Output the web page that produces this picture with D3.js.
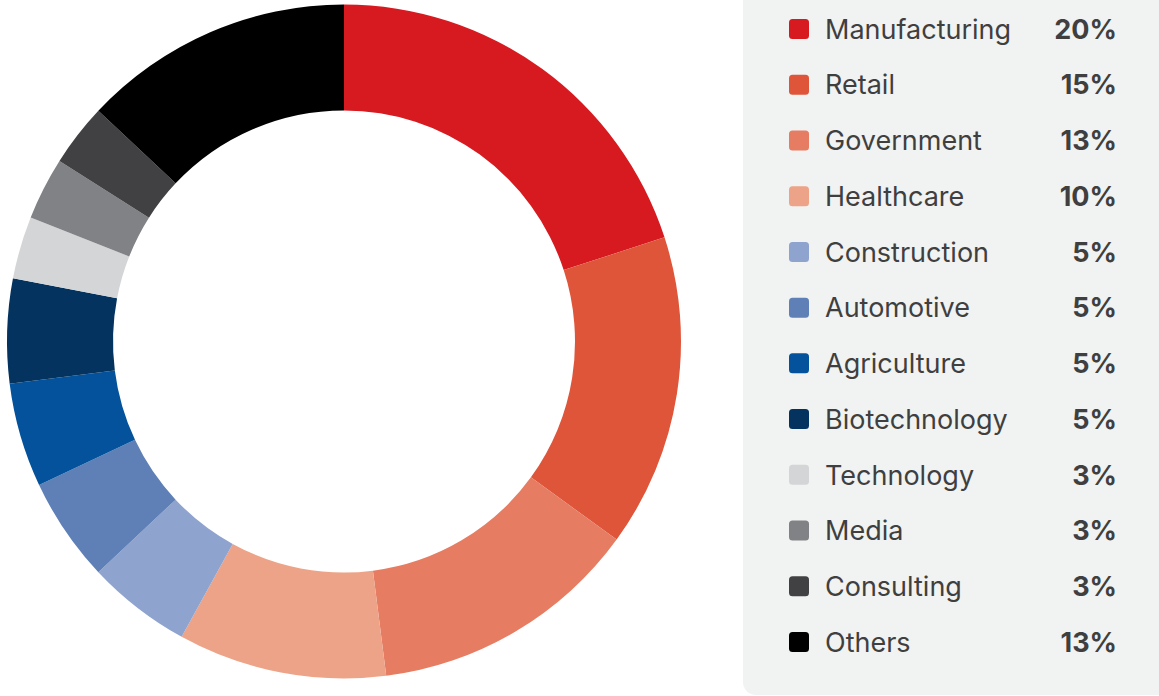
<!DOCTYPE html>
<html>
<head>
<meta charset="utf-8">
<script src="https://cdn.jsdelivr.net/npm/d3@7"></script>
<style>
  html, body { margin: 0; padding: 0; background: #fff; }
  svg { display: block; }
</style>
</head>
<body>
<div id="chart"></div>
<script>
// data
var categories = ["Manufacturing", "Retail", "Government", "Healthcare", "Construction",
  "Automotive", "Agriculture", "Biotechnology", "Technology", "Media", "Consulting", "Others"];
var shares = [20, 15, 13, 10, 5, 5, 5, 5, 3, 3, 3, 13];
var colors = ["#d71920", "#df553a", "#e67c62", "#eda387", "#8fa3cf", "#5f80b7",
  "#03529b", "#04335f", "#d4d5d6", "#808285", "#414143", "#000000"];

var width = 1159, height = 696;

var svg = d3.select('#chart').append('svg')
  .attr('width', width)
  .attr('height', height);

// donut
var cx = 344, cy = 341.5,
    outerR = 337, innerR = 231;

var pie = d3.pie().sort(null).value(function (d) { return d; });
var arc = d3.arc().innerRadius(innerR).outerRadius(outerR);

var color = d3.scaleOrdinal().domain(categories).range(colors);

var donut = svg.append('g')
  .attr('transform', 'translate(' + cx + ',' + cy + ')');

donut.selectAll('path')
  .data(pie(shares))
  .enter().append('path')
    .attr('d', arc)
    .attr('fill', function (d, i) { return color(categories[i]); });

// legend panel (top edge runs off the page)
svg.append('rect')
  .attr('x', 743)
  .attr('y', -20)
  .attr('width', 440)
  .attr('height', 715)
  .attr('rx', 13)
  .attr('fill', '#f1f2f2');

var rowY = d3.scalePoint()
  .domain(categories)
  .range([29, 642]);

var legend = svg.append('g');

var rows = legend.selectAll('g.row')
  .data(categories)
  .enter().append('g')
    .attr('class', 'row')
    .attr('transform', function (d) { return 'translate(0,' + rowY(d) + ')'; });

rows.append('rect')
  .attr('x', 789)
  .attr('y', -10)
  .attr('width', 20)
  .attr('height', 20)
  .attr('rx', 3.5)
  .attr('fill', function (d) { return color(d); });

rows.append('text')
  .attr('x', 825)
  .attr('dy', '0.36em')
  .style('font-family', 'Inter, "Noto Sans", sans-serif')
  .style('font-size', '27px')
  .style('fill', '#3f3f40')
  .text(function (d) { return d; });

rows.append('text')
  .attr('x', 1117)
  .attr('dy', '0.36em')
  .attr('text-anchor', 'end')
  .style('font-family', 'Inter, "Noto Sans", sans-serif')
  .style('font-size', '27px')
  .style('font-weight', 700)
  .style('fill', '#3f3f40')
  .text(function (d, i) { return shares[i] + '%'; });
</script>
</body>
</html>
